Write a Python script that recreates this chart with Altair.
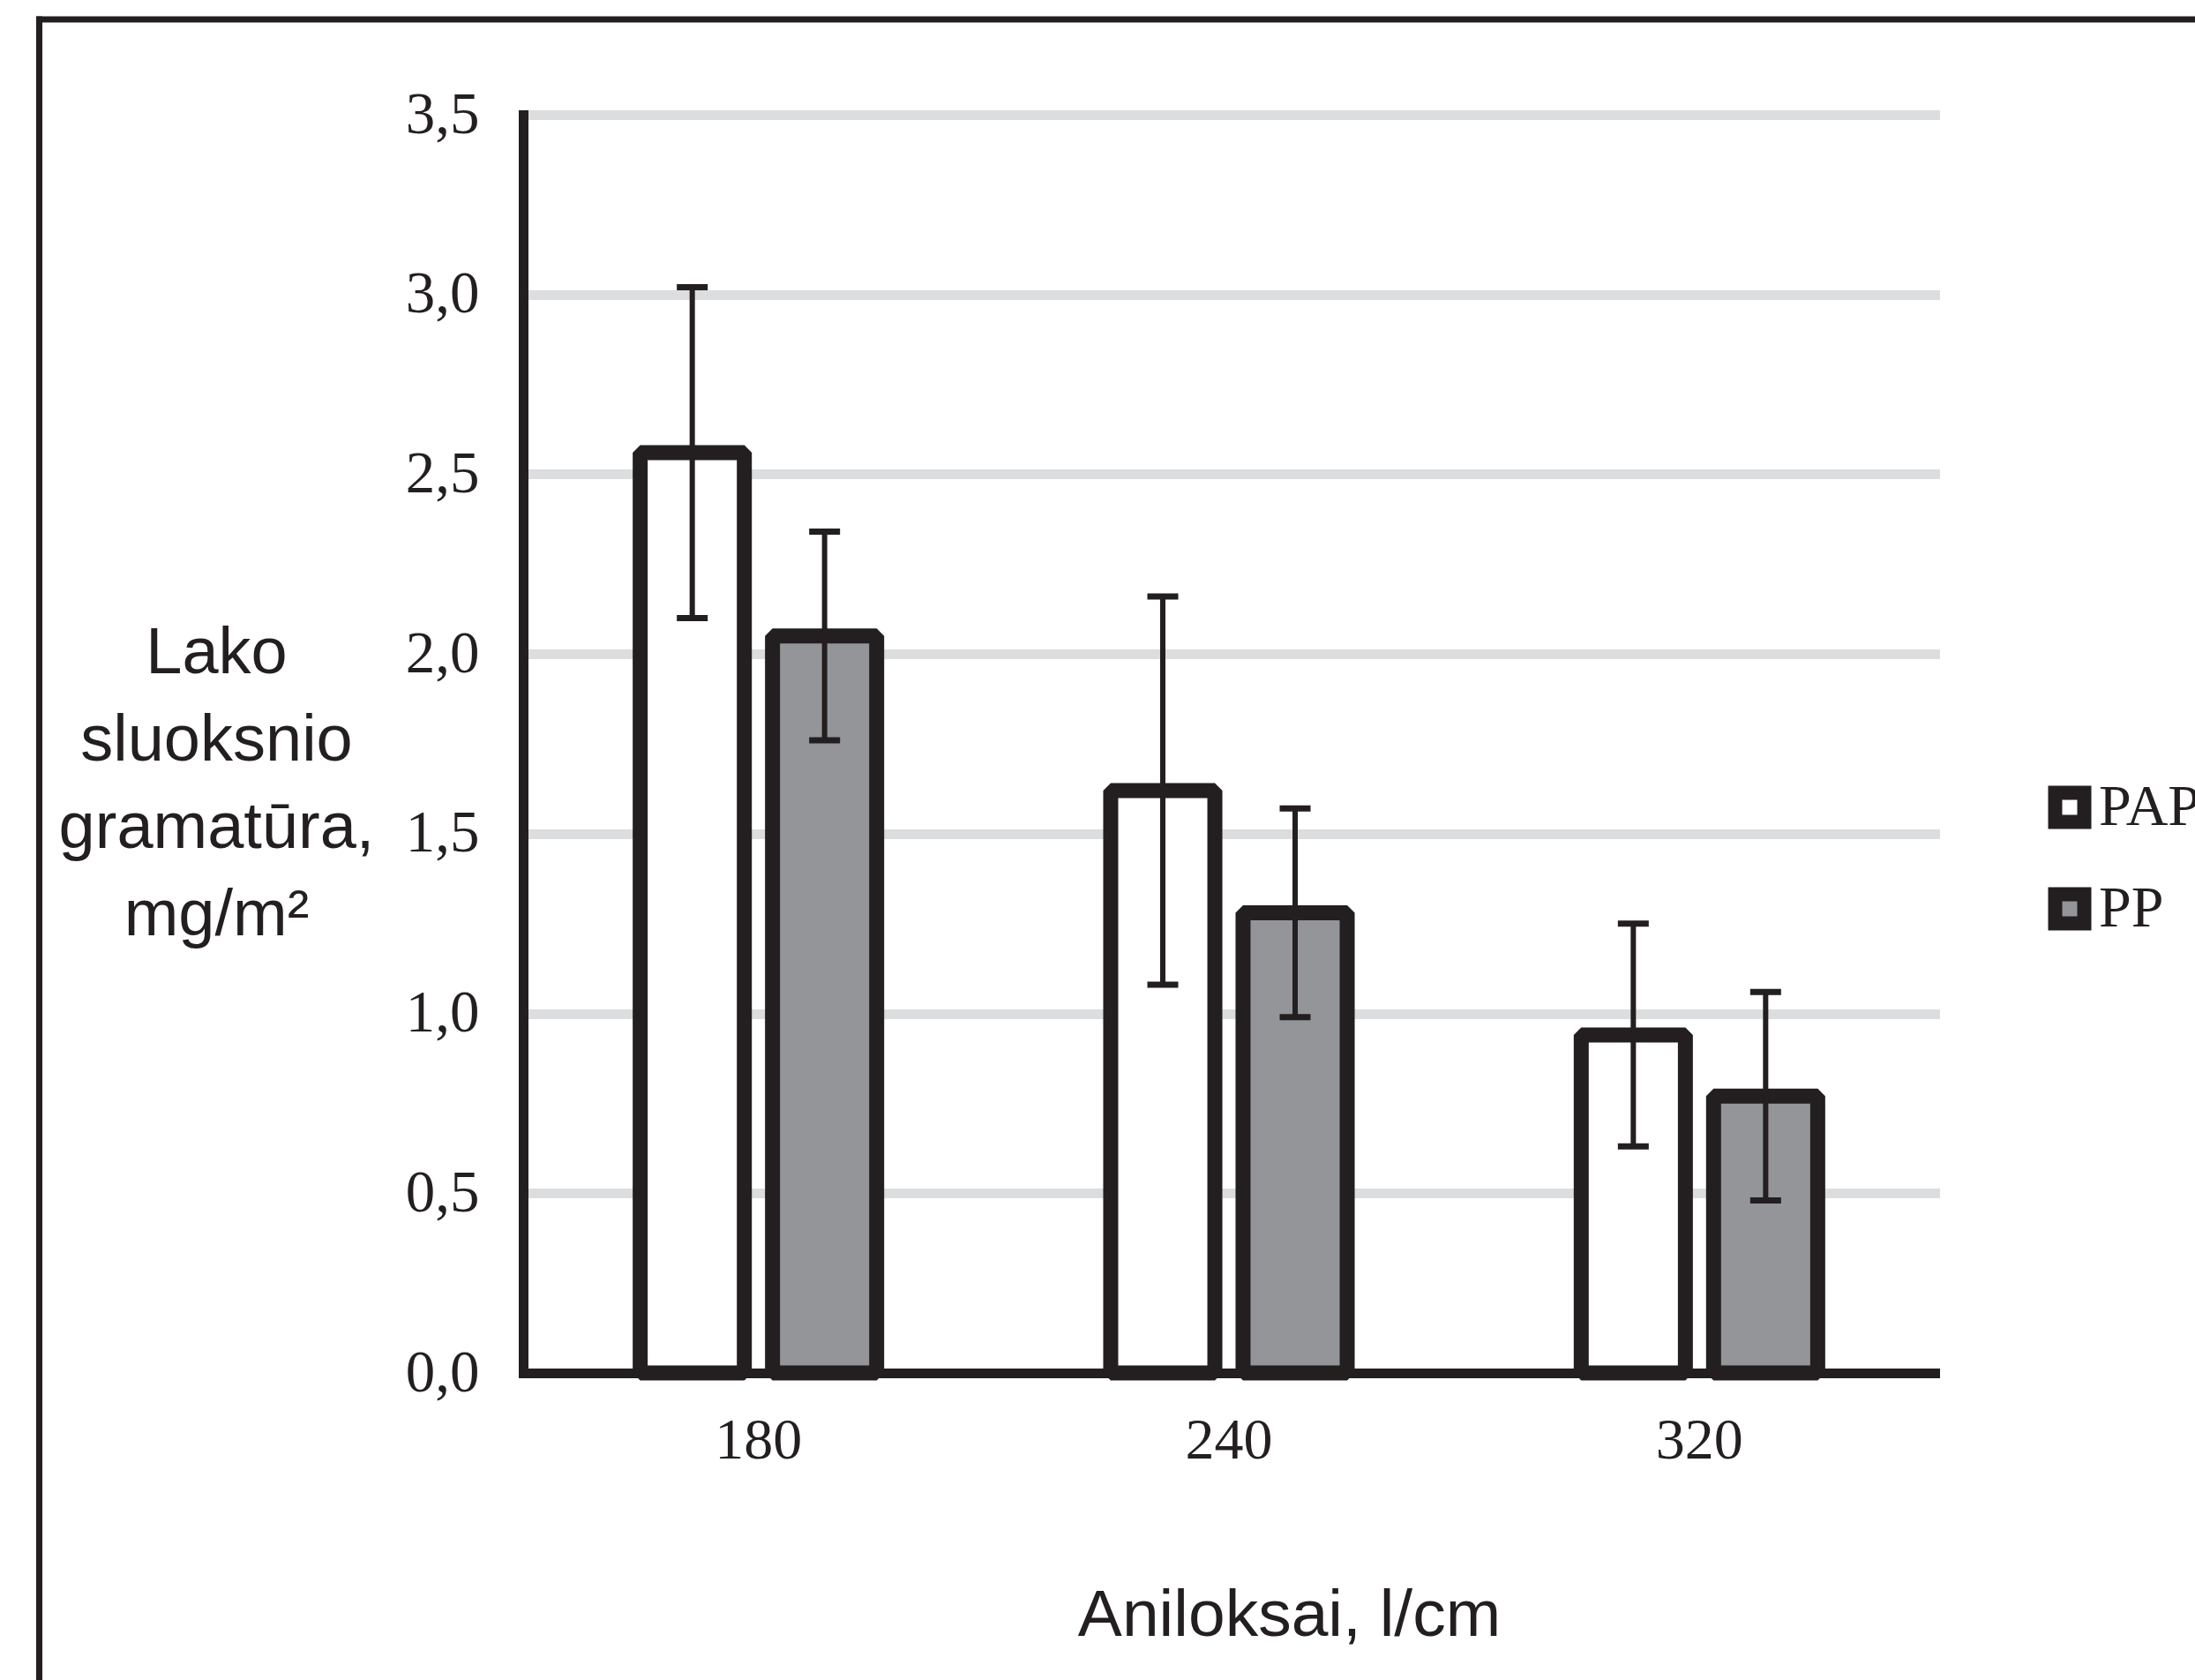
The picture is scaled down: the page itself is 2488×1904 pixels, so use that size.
import altair as alt
import pandas as pd

# ---- data ----
categories = ["180", "240", "320"]
series = ["PAP", "PP"]
pap_values = [2.56, 1.62, 0.94]
pp_values = [2.05, 1.28, 0.77]
pap_err = [0.46, 0.54, 0.31]
pp_err = [0.29, 0.29, 0.29]
y_ticks = [0.0, 0.5, 1.0, 1.5, 2.0, 2.5, 3.0, 3.5]

rows = []
for i, c in enumerate(categories):
    rows.append({"cat": c, "series": "PAP", "value": pap_values[i], "err": pap_err[i]})
    rows.append({"cat": c, "series": "PP", "value": pp_values[i], "err": pp_err[i]})
df = pd.DataFrame(rows)
df["lower"] = df["value"] - df["err"]
df["upper"] = df["value"] + df["err"]

DARK = "#231f20"
GRAY = "#939598"
GRID = "#dcddde"
SERIF = "Liberation Serif"
SANS = "Liberation Sans, Arial, sans-serif"

x_scale = alt.Scale(paddingInner=0.4375, paddingOuter=0.21875)
off_scale = alt.Scale(paddingInner=0.213, paddingOuter=0.1065)
y_scale = alt.Scale(domain=[0, 3.5], nice=False, zero=True)

x_axis = alt.Axis(
    labelAngle=0, ticks=False, grid=False,
    domainColor=DARK, domainWidth=11, domainCap="square",
    labelFont=SERIF, labelFontSize=66, labelColor=DARK, labelPadding=44,
    title="Aniloksai, l/cm", titleFont=SANS, titleFontSize=75,
    titleFontWeight="normal", titleColor=DARK, titleAngle=0,
    titleAlign="center", titleBaseline="alphabetic", titleX=868, titleY=297,
)
y_axis = alt.Axis(
    values=y_ticks,
    labelExpr="replace(format(datum.value, '.1f'), '.', ',')",
    grid=True, gridColor=GRID, gridWidth=11, gridCap="square",
    domainColor=DARK, domainWidth=11, domainCap="square", ticks=False,
    labelFont=SERIF, labelFontSize=67, labelColor=DARK, labelPadding=50,
    title=["Lako", "sluoksnio", "gramatūra,", "mg/m²"],
    titleFont=SANS, titleFontSize=74, titleFontWeight="normal", titleColor=DARK,
    titleAngle=0, titleAlign="center", titleBaseline="alphabetic",
    titleX=-348, titleY=632, titleLineHeight=99,
)

base = alt.Chart(df)

bars = base.mark_bar(stroke=DARK, strokeWidth=17, strokeJoin="bevel").encode(
    x=alt.X("cat:N", sort=categories, scale=x_scale, axis=x_axis),
    xOffset=alt.XOffset("series:N", sort=series, scale=off_scale),
    y=alt.Y("value:Q", scale=y_scale, axis=y_axis),
    fill=alt.Fill(
        "series:N",
        scale=alt.Scale(domain=series, range=["#ffffff", GRAY]),
        legend=alt.Legend(
            title=None, orient="none", legendX=1720, legendY=752,
            symbolType="square", symbolSize=1089, symbolStrokeWidth=16,
            symbolStrokeColor=DARK, symbolOpacity=1,
            labelFont=SERIF, labelFontSize=66, labelColor=DARK,
            labelOffset=0, rowPadding=17, labelLimit=0, padding=0,
        ),
    ),
)

err_rule = base.mark_rule(color=DARK, strokeWidth=6).encode(
    x=alt.X("cat:N", sort=categories, scale=x_scale, axis=x_axis),
    xOffset=alt.XOffset("series:N", sort=series, scale=off_scale),
    y=alt.Y("lower:Q", scale=y_scale, axis=y_axis),
    y2="upper:Q",
)

cap_lo = base.mark_tick(color=DARK, size=35, thickness=7, opacity=1).encode(
    x=alt.X("cat:N", sort=categories, scale=x_scale, axis=x_axis),
    xOffset=alt.XOffset("series:N", sort=series, scale=off_scale),
    y=alt.Y("lower:Q", scale=y_scale, axis=y_axis),
)
cap_hi = base.mark_tick(color=DARK, size=35, thickness=7, opacity=1).encode(
    x=alt.X("cat:N", sort=categories, scale=x_scale, axis=x_axis),
    xOffset=alt.XOffset("series:N", sort=series, scale=off_scale),
    y=alt.Y("upper:Q", scale=y_scale, axis=y_axis),
)

# decorative frame lines (top and left border of the original figure)
frame_df = pd.DataFrame({"k": [0]})
frame_top = alt.Chart(frame_df).mark_rule(color=DARK, strokeWidth=7).encode(
    x=alt.value(-552), x2=alt.value(1900), y=alt.value(-108)
)
frame_left = alt.Chart(frame_df).mark_rule(color=DARK, strokeWidth=7).encode(
    x=alt.value(-548.5), y=alt.value(-111.5), y2=alt.value(1780)
)

chart = (
    alt.layer(bars, err_rule, cap_lo, cap_hi, frame_top, frame_left)
    .properties(
        width=1600,
        height=1426,
        autosize=alt.AutoSizeParams(type="none"),
        padding={"left": 593, "top": 130, "right": 295, "bottom": 348},
        background="white",
    )
    .configure_view(stroke=None)
)

chart.save("out.html", embed_options={"renderer": "svg", "actions": False})
